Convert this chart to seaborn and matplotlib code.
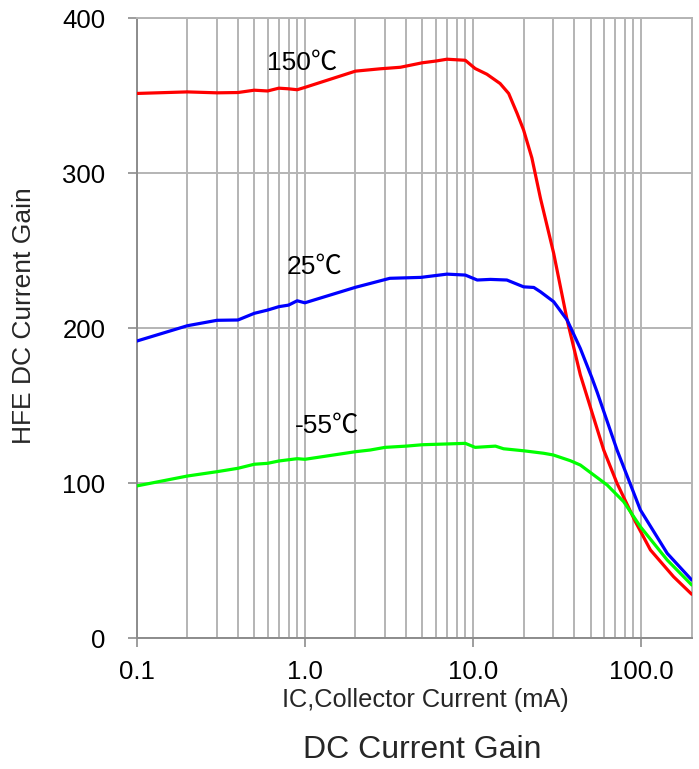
import numpy as np
import pandas as pd
import seaborn as sns
import matplotlib.pyplot as plt
from matplotlib.ticker import FixedLocator, FixedFormatter, NullFormatter

# values (IC in mA, HFE)
red_x = [0.1, 0.2, 0.3, 0.4, 0.5, 0.6, 0.7, 0.8, 0.9, 1.0, 2.0, 2.8, 3.7, 5.0, 6.0, 7.0,
         9.0, 10.3, 12.1, 14.5, 16.3, 18.3, 20.0, 22.4, 25.2, 30.2, 36.3, 43.5, 47.7,
         59.9, 71.9, 92.5, 113.6, 156.0, 200.0]
red_y = [351.6, 352.6, 352.0, 352.2, 353.7, 353.2, 355.0, 354.6, 354.0, 355.5, 366.0,
         367.5, 368.5, 371.4, 372.5, 373.7, 373.0, 367.7, 364.0, 358.0, 351.6, 338.7,
         328.0, 310.0, 283.9, 248.4, 205.4, 170.0, 156.0, 121.5, 100.0, 75.2, 57.0,
         39.7, 28.4]

blue_x = [0.1, 0.2, 0.3, 0.4, 0.5, 0.6, 0.7, 0.8, 0.9, 1.0, 2.0, 2.45, 3.2, 4.9, 7.0,
          9.0, 10.6, 12.7, 15.9, 20.0, 23.0, 25.2, 30.2, 36.3, 43.5, 51.0, 54.7, 71.9,
          99.0, 143.0, 200.0]
blue_y = [191.8, 201.7, 205.2, 205.4, 209.7, 211.8, 214.0, 215.0, 217.8, 216.5, 226.5,
          229.0, 232.3, 232.9, 235.0, 234.4, 231.2, 231.6, 231.2, 226.8, 226.4, 223.6,
          217.2, 205.4, 187.0, 168.0, 159.0, 121.5, 82.8, 54.8, 37.6]

green_x = [0.1, 0.2, 0.3, 0.4, 0.5, 0.6, 0.7, 0.9, 1.0, 2.0, 2.45, 3.0, 4.0, 5.0, 7.0,
           9.0, 10.3, 13.6, 15.2, 20.0, 26.3, 30.0, 37.9, 43.5, 52.2, 62.8, 78.8, 99.0,
           143.0, 200.0]
green_y = [98.3, 104.7, 107.5, 109.7, 112.3, 112.9, 114.4, 115.9, 115.5, 120.4, 121.5,
           123.2, 124.0, 124.9, 125.4, 125.8, 123.2, 124.0, 122.3, 121.0, 119.4, 118.3,
           114.6, 111.8, 105.4, 98.9, 88.1, 72.0, 50.5, 34.4]

temps = ['150℃', '25℃', '-55℃']
colors = ['#ff0000', '#0000ff', '#00ff00']
label_pos = [(0.594, 366.6), (0.782, 235.5), (0.875, 132.3)]

x_major = [0.1, 1.0, 10.0, 100.0]
x_major_labels = ['0.1', '1.0', '10.0', '100.0']
y_ticks = [0, 100, 200, 300, 400]

df = pd.concat([
    pd.DataFrame({'IC': red_x, 'HFE': red_y, 'temp': temps[0]}),
    pd.DataFrame({'IC': blue_x, 'HFE': blue_y, 'temp': temps[1]}),
    pd.DataFrame({'IC': green_x, 'HFE': green_y, 'temp': temps[2]}),
])

sns.set_style('white')
plt.rcParams['font.family'] = ['Liberation Sans', 'Noto Sans CJK SC', 'DejaVu Sans']

fig = plt.figure(figsize=(6.99, 7.69), dpi=100)
ax = fig.add_axes([0.1956, 0.170, 0.794, 0.806])

sns.lineplot(data=df, x='IC', y='HFE', hue='temp', palette=dict(zip(temps, colors)),
             sort=False, linewidth=2.3, legend=False, ax=ax, zorder=3)

ax.set_xscale('log')
ax.set_xlim(0.1, 200)
ax.set_ylim(0, 400)

minor = [m * d for d in [0.1, 1, 10, 100] for m in range(2, 10) if m * d <= 200]
ax.xaxis.set_major_locator(FixedLocator(x_major))
ax.xaxis.set_major_formatter(FixedFormatter(x_major_labels))
ax.xaxis.set_minor_locator(FixedLocator(minor))
ax.xaxis.set_minor_formatter(NullFormatter())
ax.set_yticks(y_ticks)

grid_c = '#b4b4b4'
ax.grid(True, which='both', axis='x', color=grid_c, linewidth=1.4)
ax.grid(True, which='major', axis='y', color=grid_c, linewidth=1.4)
ax.set_axisbelow(True)

for side in ['top', 'right']:
    ax.spines[side].set_color(grid_c)
    ax.spines[side].set_linewidth(1.4)
for side in ['left', 'bottom']:
    ax.spines[side].set_color('#8c8c8c')
    ax.spines[side].set_linewidth(1.4)

ax.tick_params(axis='both', which='major', direction='out', length=6.5, width=1.2,
               color='#8c8c8c', labelsize=18.5, labelcolor='black')
ax.tick_params(axis='x', which='major', pad=9)
ax.tick_params(axis='y', which='major', pad=16)
ax.tick_params(axis='x', which='minor', length=0)
ax.tick_params(left=True, bottom=True)

ax.set_xlabel('IC,Collector Current (mA)', fontsize=18.3)
ax.set_ylabel('HFE DC Current Gain', fontsize=19)
ax.xaxis.set_label_coords(0.520, -0.080)
ax.yaxis.set_label_coords(-0.182, 0.52)

for t, (lx, ly) in zip(temps, label_pos):
    ax.text(lx, ly, t, fontsize=19, va='baseline', ha='left', color='black', zorder=4)

fig.text(0.604, 0.0143, 'DC Current Gain', fontsize=23, ha='center', va='baseline')

fig.savefig('out.png', dpi=100)
